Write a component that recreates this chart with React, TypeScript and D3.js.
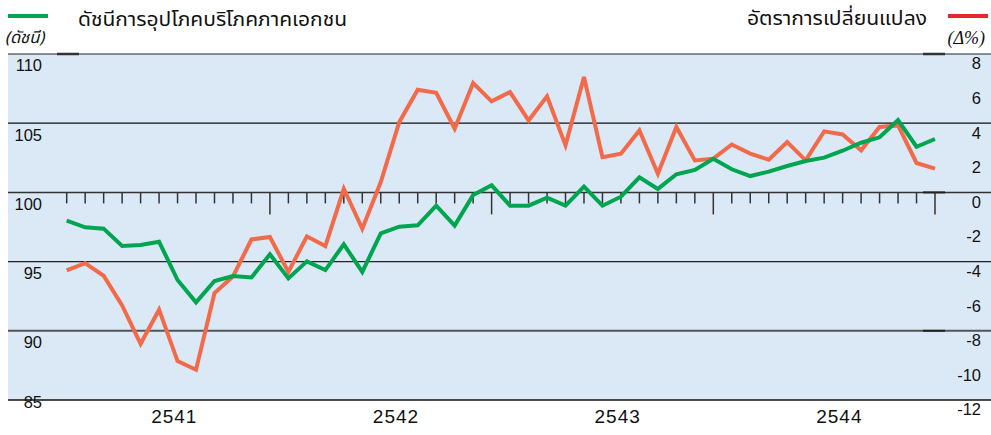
import React from "react";
import * as d3 from "d3";

const years = ["2541", "2542", "2543", "2544"];
const monthsPerYear = 12;

const indexSeries = [
  97.96, 97.48, 97.38, 96.13, 96.2, 96.44, 93.67, 92.06, 93.6, 93.96, 93.86, 95.53,
  93.79, 95.02, 94.39, 96.25, 94.25, 97.04, 97.52, 97.62, 99.04, 97.6, 99.81, 100.51,
  99.04, 99.04, 99.62, 99.04, 100.41, 99.04, 99.69, 101.09, 100.25, 101.31, 101.62, 102.43,
  101.67, 101.18, 101.5, 101.91, 102.27, 102.51, 103.01, 103.59, 103.98, 105.23, 103.3, 103.86,
];

const changeSeries = [
  -4.51, -4.09, -4.82, -6.53, -8.75, -6.78, -9.75, -10.25, -5.82, -4.86, -2.72, -2.58,
  -4.6, -2.54, -3.1, 0.21, -2.1, 0.6, 4.06, 5.93, 5.76, 3.68, 6.32, 5.26,
  5.8, 4.16, 5.55, 2.72, 6.67, 2.04, 2.24, 3.58, 1.08, 3.78, 1.85, 1.95,
  2.77, 2.24, 1.89, 2.91, 1.85, 3.53, 3.35, 2.43, 3.78, 3.87, 1.7, 1.37,
];

const leftTicks = [110, 105, 100, 95, 90, 85];
const rightTicks = [8, 6, 4, 2, 0, -2, -4, -6, -8, -10, -12];

const leftTitle = "ดัชนีการอุปโภคบริโภคภาคเอกชน";
const rightTitle = "อัตราการเปลี่ยนแปลง";
const leftUnit = "(ดัชนี)";
const rightUnit = "(Δ%)";

export default function App() {
  const W = 991;
  const H = 435;
  const plotLeft = 8;
  const plotRight = 991;
  const top = 54;
  const bottom = 400;

  const yL = d3.scaleLinear().domain([85, 110]).range([bottom, top]);
  const yR = d3.scaleLinear().domain([-12, 8]).range([bottom, top]);
  const n = indexSeries.length;
  const x = d3.scaleLinear().domain([0, n - 1]).range([66.7, 935]);

  const lineL = d3
    .line<number>()
    .x((_, i) => x(i))
    .y((d) => yL(d));
  const lineR = d3
    .line<number>()
    .x((_, i) => x(i))
    .y((d) => yR(d));

  const zeroY = yR(0);
  const green = "#00a54f";
  const red = "#f26a4a";
  const numFont = "'Liberation Sans', Arial, sans-serif";
  const thaiFont = "'Noto Sans Thai', 'Noto Sans', 'Liberation Sans', sans-serif";

  const gridStyles: Record<number, { c: string; w: number }> = {
    110: { c: "#222", w: 1.2 },
    105: { c: "#111", w: 1.2 },
    100: { c: "#333", w: 1.5 },
    95: { c: "#222", w: 1.2 },
    90: { c: "#555", w: 2 },
    85: { c: "#111", w: 1.6 },
  };

  return (
    <div style={{ position: "absolute", left: 0, top: 0 }}>
      <svg width={W} height={H} style={{ display: "block", background: "#fff" }}>
        <rect x={plotLeft} y={top} width={plotRight - plotLeft} height={bottom - top} fill="#dbe9f6" />

        {leftTicks.map((t) => (
          <line
            key={"g" + t}
            x1={plotLeft}
            x2={plotRight}
            y1={yL(t)}
            y2={yL(t)}
            stroke={gridStyles[t].c}
            strokeWidth={gridStyles[t].w}
          />
        ))}
        <line x1={57} x2={79} y1={top} y2={top} stroke="#333" strokeWidth={2.5} />
        <line x1={923} x2={945} y1={top} y2={top} stroke="#333" strokeWidth={2.5} />
        <line x1={923} x2={945} y1={yL(90)} y2={yL(90)} stroke="#222" strokeWidth={2} />
        <line x1={923} x2={945} y1={zeroY} y2={zeroY} stroke="#222" strokeWidth={2} />

        {indexSeries.map((_, i) => {
          const long = (i + 1) % monthsPerYear === 0;
          return (
            <line
              key={"t" + i}
              x1={x(i)}
              x2={x(i)}
              y1={zeroY}
              y2={zeroY + (long ? 22 : 11)}
              stroke="#333"
              strokeWidth={1.5}
            />
          );
        })}

        <path d={lineR(changeSeries) || ""} fill="none" stroke={red} strokeWidth={4} strokeLinejoin="miter" />
        <path d={lineL(indexSeries) || ""} fill="none" stroke={green} strokeWidth={4} strokeLinejoin="miter" />

        {leftTicks.map((t) => (
          <text
            key={"l" + t}
            x={42}
            y={yL(t) + (t === 85 ? 4 : 13)}
            textAnchor="end"
            dominantBaseline="middle"
            fontFamily={numFont}
            fontSize={16.5}
            fill="#111"
          >
            {t}
          </text>
        ))}
        {rightTicks.map((t) => (
          <text
            key={"r" + t}
            x={981}
            y={yR(t) + 11}
            textAnchor="end"
            dominantBaseline="middle"
            fontFamily={numFont}
            fontSize={16.5}
            fill="#111"
          >
            {t}
          </text>
        ))}

        {years.map((yr, k) => {
          const cx = (x(k * monthsPerYear) + x(k * monthsPerYear + monthsPerYear - 1)) / 2 + 6;
          return (
            <text
              key={yr}
              x={cx}
              y={418}
              textAnchor="middle"
              dominantBaseline="middle"
              fontFamily="'Liberation Sans Narrow', 'Liberation Sans', Arial, sans-serif"
              fontSize={19}
              fill="#111"
              letterSpacing={1}
            >
              {yr}
            </text>
          );
        })}

        <line x1={8} x2={48} y1={16} y2={16} stroke={green} strokeWidth={4} />
        <text
          x={78}
          y={20}
          dominantBaseline="middle"
          fontFamily={thaiFont}
          fontSize={20}
          fill="#111"
          textLength={269}
          lengthAdjust="spacingAndGlyphs"
        >
          {leftTitle}
        </text>
        <text x={5} y={38} dominantBaseline="middle" fontFamily={thaiFont} fontStyle="italic" fontSize={16.5} fill="#111">
          {leftUnit}
        </text>

        <text
          x={747}
          y={20}
          dominantBaseline="middle"
          fontFamily={thaiFont}
          fontSize={19.5}
          fill="#111"
          textLength={180}
          lengthAdjust="spacingAndGlyphs"
        >
          {rightTitle}
        </text>
        <line x1={948} x2={988} y1={16} y2={16} stroke="#e8262b" strokeWidth={4} />
        <text x={985} y={40} textAnchor="end" dominantBaseline="middle" fontFamily="'Liberation Serif', serif" fontStyle="italic" fontSize={18} fill="#111">
          {rightUnit}
        </text>
      </svg>
    </div>
  );
}
